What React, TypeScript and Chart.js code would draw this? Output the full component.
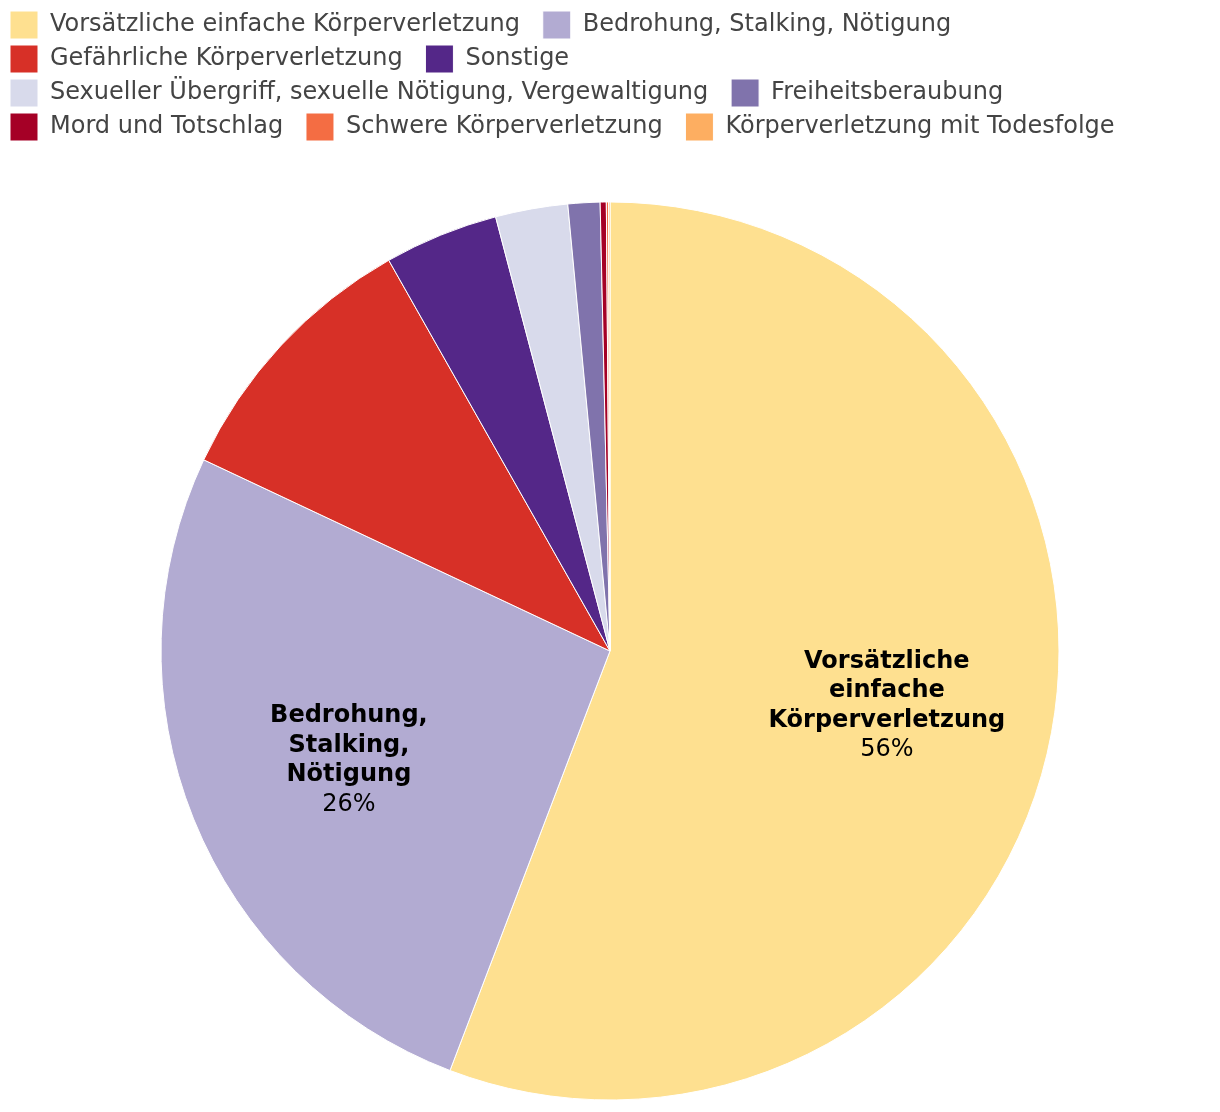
import React, { useEffect, useRef } from 'react';
import { Chart, registerables } from 'chart.js';

Chart.register(...registerables);

const categories = [
  'Vorsätzliche einfache Körperverletzung',
  'Bedrohung, Stalking, Nötigung',
  'Gefährliche Körperverletzung',
  'Sonstige',
  'Sexueller Übergriff, sexuelle Nötigung, Vergewaltigung',
  'Freiheitsberaubung',
  'Mord und Totschlag',
  'Schwere Körperverletzung',
  'Körperverletzung mit Todesfolge',
];
const values = [55.8, 26.2, 9.8, 4.1, 2.6, 1.15, 0.22, 0.08, 0.05];
const colors = [
  '#fee090',
  '#b2abd2',
  '#d73027',
  '#542788',
  '#d8daeb',
  '#8073ac',
  '#a50026',
  '#f46d43',
  '#fdae61',
];

const FONT = "'DejaVu Sans', Verdana, sans-serif";

const sliceLabels = {
  id: 'sliceLabels',
  afterDatasetsDraw(chart: any) {
    const meta = chart.getDatasetMeta(0);
    const data = chart.data.datasets[0].data as number[];
    const total = data.reduce((a, b) => a + b, 0);
    const ctx = chart.ctx;
    ctx.save();
    ctx.textAlign = 'center';
    ctx.textBaseline = 'middle';
    ctx.fillStyle = '#000';
    meta.data.forEach((arc: any, i: number) => {
      const share = data[i] / total;
      if (share < 0.2) return;
      const { x, y, startAngle, endAngle, outerRadius } = arc.getProps(
        ['x', 'y', 'startAngle', 'endAngle', 'outerRadius'],
        true
      );
      const mid = (startAngle + endAngle) / 2;
      const r = outerRadius * 0.627;
      const cx = x + Math.cos(mid) * r;
      const cy = y + Math.sin(mid) * r + 4;
      const words = (chart.data.labels[i] as string).split(' ');
      const lines = [...words, Math.round(share * 100) + '%'];
      const lh = 29.5;
      lines.forEach((line, k) => {
        const isPct = k === lines.length - 1;
        ctx.font = (isPct ? '' : 'bold ') + '24px ' + FONT;
        ctx.fillText(line, cx, cy + (k - (lines.length - 1) / 2) * lh);
      });
    });
    ctx.restore();
  },
};

export default function App() {
  const ref = useRef<HTMLCanvasElement | null>(null);
  useEffect(() => {
    if (!ref.current) return;
    const chart = new Chart(ref.current, {
      type: 'pie',
      data: {
        labels: categories,
        datasets: [
          {
            data: values,
            backgroundColor: colors,
            borderColor: '#ffffff',
            borderWidth: 1,
            radius: 449,
          } as any,
        ],
      },
      options: {
        responsive: false,
        animation: false,
        layout: { padding: { left: 4, right: 0, top: 0, bottom: 0 } },
        plugins: {
          tooltip: { enabled: false },
          legend: {
            position: 'top',
            align: 'start',
            labels: {
              boxWidth: 28,
              boxHeight: 28,
              padding: 6,
              color: '#444',
              font: { family: FONT, size: 24 },
              generateLabels: (c: any) => {
                const base = (Chart as any).overrides.pie.plugins.legend.labels.generateLabels(c);
                return base.map((it: any) => ({ ...it, text: it.text + '\u2002\u2009' }));
              },
            },
          },
        },
      },
      plugins: [sliceLabels],
    });
    return () => chart.destroy();
  }, []);
  return (
    <div
      style={{
        position: 'absolute',
        left: 0,
        top: 5,
        width: 1216,
        height: 1107,
        overflow: 'hidden',
      }}
    >
      <canvas ref={ref} width={1216} height={1146} style={{ display: 'block' }} />
    </div>
  );
}
